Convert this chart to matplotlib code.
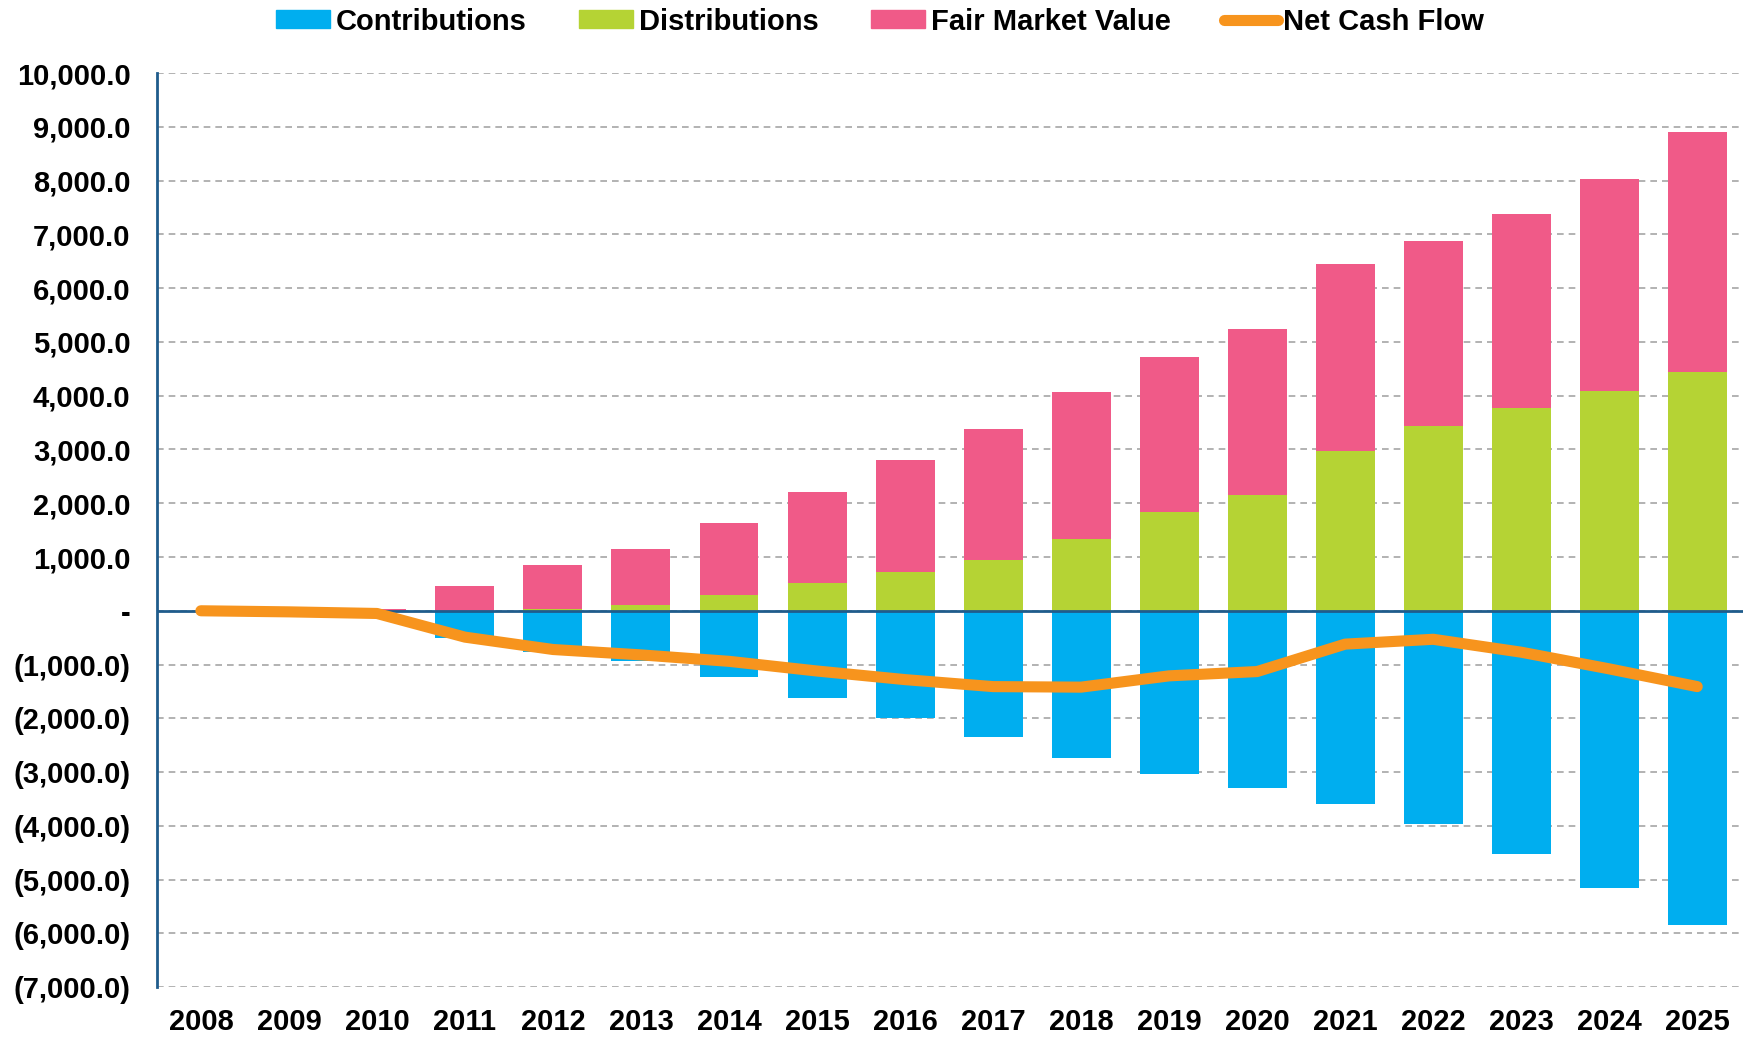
import numpy as np
import matplotlib.pyplot as plt
from matplotlib.ticker import FuncFormatter, MultipleLocator
from matplotlib.lines import Line2D
from matplotlib.patches import Patch

years = [str(y) for y in range(2008, 2026)]
contributions = [0, 0, -20, -500, -770, -930, -1240, -1630, -2000, -2350,
                 -2740, -3030, -3300, -3590, -3960, -4520, -5160, -5850]
distributions = [0, 0, 0, 0, 40, 100, 290, 520, 730, 940,
                 1330, 1830, 2160, 2980, 3440, 3770, 4080, 4440]
fair_market_value = [0, 0, 30, 460, 810, 1050, 1340, 1680, 2070, 2440,
                     2730, 2890, 3080, 3460, 3430, 3600, 3950, 4460]
net_cash_flow = [0, -20, -50, -490, -720, -820, -940, -1120, -1280, -1410,
                 -1420, -1210, -1130, -620, -530, -770, -1080, -1410]

plt.rcParams['font.family'] = ['Liberation Sans', 'DejaVu Sans']
plt.rcParams['font.weight'] = 'bold'

c_blue = "#00AEEF"
c_green = "#B5D334"
c_pink = "#F05A88"
c_orange = "#F7941D"
c_axis = "#1F5C8C"

fig = plt.figure(figsize=(17.43, 10.37), dpi=100)
ax = fig.add_axes([0.09, 0.048, 0.91, 0.8816])

x = np.arange(len(years))
w = 0.67
ax.bar(x, contributions, w, color=c_blue, zorder=2)
ax.bar(x, distributions, w, color=c_green, zorder=2)
ax.bar(x, fair_market_value, w, bottom=distributions, color=c_pink, zorder=2)
ax.axhline(0, color=c_axis, lw=2, zorder=3)
ax.plot(x, net_cash_flow, color=c_orange, lw=8, solid_capstyle='round',
        solid_joinstyle='round', zorder=4)

ax.set_ylim(-7000, 10000)
ax.set_xlim(-0.5, 17.52)
ax.yaxis.set_major_locator(MultipleLocator(1000))

def fmt(v, pos):
    if abs(v) < 1e-6:
        return "-"
    if v < 0:
        return "({:,.1f})".format(-v)
    return "{:,.1f}".format(v)

ax.yaxis.set_major_formatter(FuncFormatter(fmt))
ax.set_xticks(x)
ax.set_xticklabels(years)
ax.tick_params(axis='both', length=0, labelsize=21, colors='black')
ax.tick_params(axis='y', pad=19)
ax.tick_params(axis='x', pad=15)
for lab in ax.get_yticklabels() + ax.get_xticklabels():
    lab.set_fontweight('bold')

ax.grid(axis='y', color='#A6A6A6', linestyle=(0, (4, 3)), lw=1.2, zorder=0)
for s in ['top', 'right', 'bottom']:
    ax.spines[s].set_visible(False)
ax.spines['left'].set_color(c_axis)
ax.spines['left'].set_linewidth(2)

handles = [Patch(color=c_blue), Patch(color=c_green), Patch(color=c_pink),
           Line2D([0], [0], color=c_orange, lw=8, solid_capstyle='round')]
labels = ["Contributions", "Distributions", "Fair Market Value", "Net Cash Flow"]
fig.legend(handles, labels, loc='upper center', bbox_to_anchor=(0.505, 1.018),
           ncol=4, frameon=False, prop={'size': 21, 'weight': 'bold'},
           handlelength=1.85, handleheight=0.55, handletextpad=0.2,
           columnspacing=1.8)

fig.savefig("out.png", dpi=100)
